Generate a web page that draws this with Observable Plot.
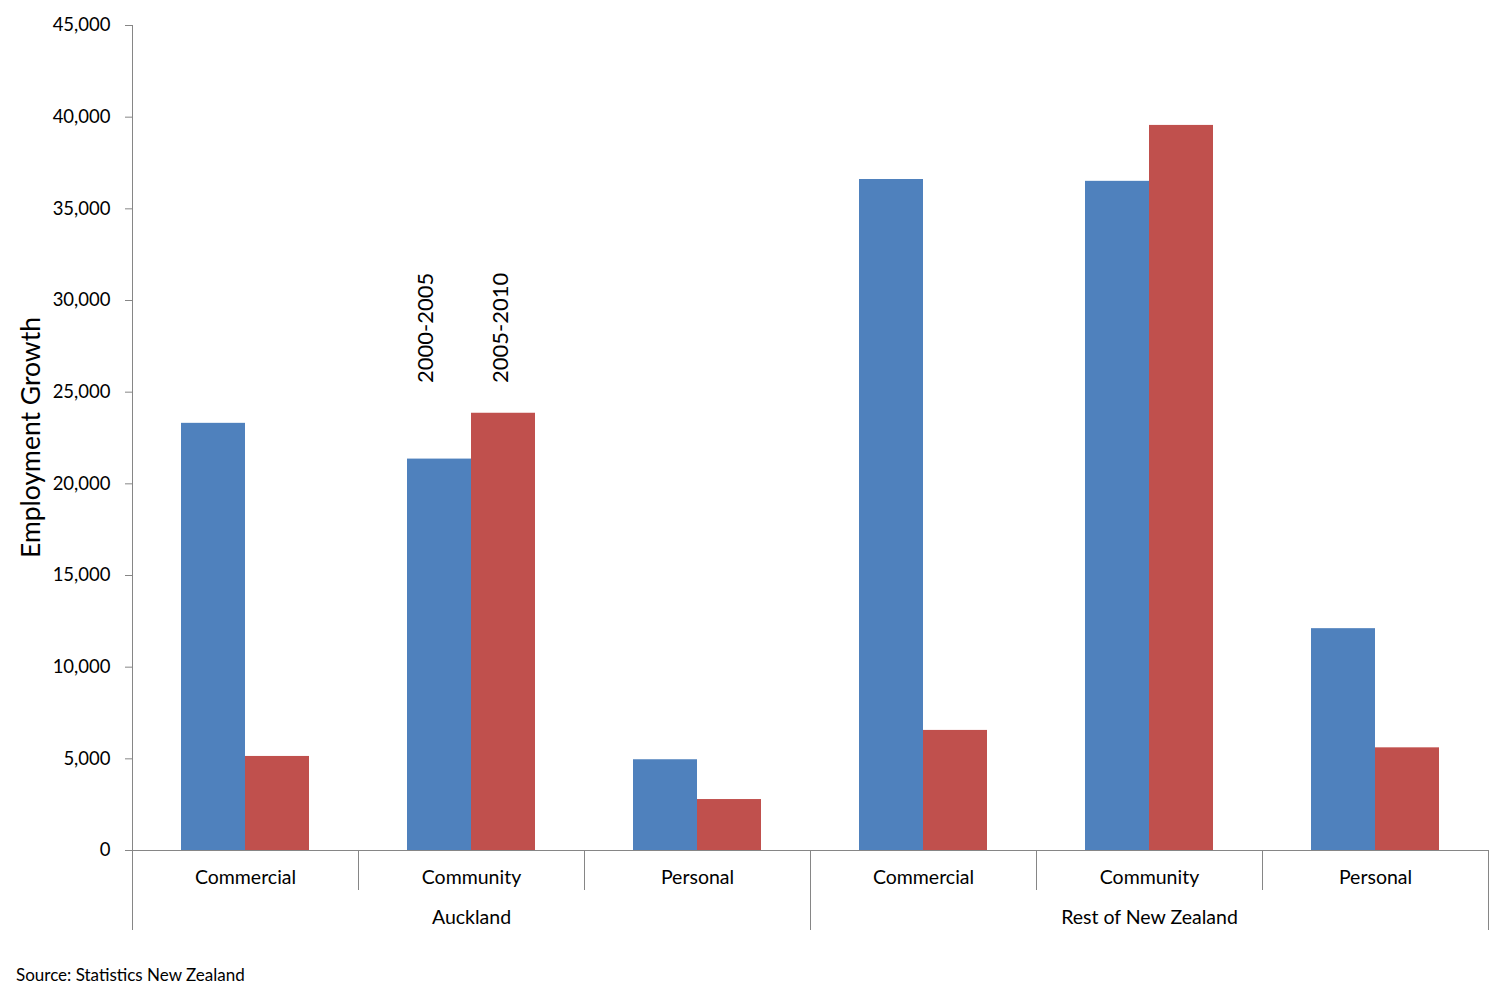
<!DOCTYPE html>
<html>
<head>
<meta charset="utf-8">
<script src="https://cdn.jsdelivr.net/npm/d3@7"></script>
<script src="https://cdn.jsdelivr.net/npm/@observablehq/plot@0.6"></script>
<style>
  body { margin: 0; background: #fff; font-family: Lato, "Open Sans", sans-serif; }
  #wrap { position: relative; width: 1512px; height: 995px; }
  #caption { position: absolute; left: 16px; top: 964px; font-size: 17px; color: #000; font-family: Lato, sans-serif; }
</style>
</head>
<body>
<div id="wrap">
  <div id="chart"></div>
  <div id="caption">Source: Statistics New Zealand</div>
</div>
<script>
const regions = ["Auckland", "Rest of New Zealand"];
const sectors = ["Commercial", "Community", "Personal"];
const periods = ["2000-2005", "2005-2010"];
const growth2000_2005 = [23300, 21350, 4950, 36600, 36500, 12100];
const growth2005_2010 = [5130, 23850, 2780, 6550, 39550, 5600];
const yTicks = [0, 5000, 10000, 15000, 20000, 25000, 30000, 35000, 40000, 45000];
const annotationAt = 25500;

const keys = [];
const data = [];
regions.forEach((r, i) => sectors.forEach((s, j) => {
  const k = i * 3 + j;
  const key = r + "|" + s;
  keys.push(key);
  data.push({key, region: r, sector: s, period: periods[0], value: growth2000_2005[k]});
  data.push({key, region: r, sector: s, period: periods[1], value: growth2005_2010[k]});
}));
const catLabels = keys.map(k => ({key: k, text: k.split("|")[1]}));
const regionLabels = regions.map(r => ({key: r + "|" + sectors[1], text: r}));
const annot = periods.map(p => ({key: regions[0] + "|" + sectors[1], period: p, text: p}));

const gray = "#868686";
const chart = Plot.plot({
  width: 1512, height: 950,
  marginLeft: 131, marginRight: 24, marginTop: 25, marginBottom: 100,
  style: {fontFamily: "Lato, 'Open Sans', sans-serif", color: "#000", background: "#fff"},
  fx: {domain: keys, padding: 0, axis: null},
  x: {domain: periods, paddingInner: 0, paddingOuter: 0.75, axis: null},
  y: {domain: [0, 45000], axis: null},
  color: {domain: periods, range: ["#4F81BD", "#C0504D"]},
  marks: [
    Plot.barY(data, {fx: "key", x: "period", y: "value", fill: "period"}),
    Plot.ruleY([0], {stroke: gray, strokeWidth: 1}),
    Plot.axisY({ticks: yTicks, tickSize: 7, tickPadding: 15, tickFormat: d3.format(","), fontSize: 18.5, stroke: gray, fill: "#000", label: null}),
    Plot.text(catLabels, {fx: "key", frameAnchor: "bottom", dy: 33, text: "text", fontSize: 19.5, fill: "#000"}),
    Plot.text(regionLabels, {fx: "key", frameAnchor: "bottom", dy: 73, text: "text", fontSize: 19.5, fill: "#000"}),
    Plot.text(annot.slice(0, 1), {fx: "key", x: "period", y: () => annotationAt, text: "text", rotate: -90, textAnchor: "start", fontSize: 22, fill: "#000", dx: -14}),
    Plot.text(annot.slice(1, 2), {fx: "key", x: "period", y: () => annotationAt, text: "text", rotate: -90, textAnchor: "start", fontSize: 22, fill: "#000", dx: -3})
  ]
});
document.getElementById("chart").appendChild(chart);

// structural lines from the scales
const svg = d3.select(chart);
const fx = chart.scale("fx");
const y = chart.scale("y");
const bw = fx.bandwidth;
const y0 = y.apply(0);
const yTop = y.apply(45000);
const g = svg.append("g").attr("stroke", gray).attr("stroke-width", 1).attr("shape-rendering", "crispEdges");
const left = fx.apply(keys[0]);
g.append("line").attr("x1", left).attr("x2", left).attr("y1", yTop).attr("y2", y0 + 80);
keys.forEach((k, i) => {
  const xr = fx.apply(k) + bw;
  const long = (i % 3 === 2);
  g.append("line").attr("x1", xr).attr("x2", xr).attr("y1", y0).attr("y2", y0 + (long ? 80 : 40));
});
svg.append("text")
  .attr("transform", `translate(40,${(yTop + y0) / 2}) rotate(-90)`)
  .attr("text-anchor", "middle")
  .attr("font-size", 26.5)
  .attr("fill", "#000")
  .text("Employment Growth");
</script>
</body>
</html>
